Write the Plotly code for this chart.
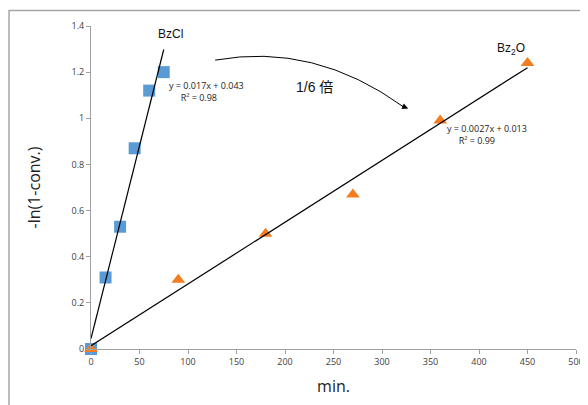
import numpy as np
import plotly.graph_objects as go

# Data
bzcl_x = [0, 15, 30, 45, 60, 75]
bzcl_y = [0, 0.31, 0.53, 0.87, 1.12, 1.20]
bz2o_x = [0, 90, 180, 270, 360, 450]
bz2o_y = [0, 0.30, 0.50, 0.67, 0.99, 1.24]
x_ticks = [0, 50, 100, 150, 200, 250, 300, 350, 400, 450, 500]
y_ticks = [0, 0.2, 0.4, 0.6, 0.8, 1.0, 1.2, 1.4]
y_tick_labels = ["0", "0.2", "0.4", "0.6", "0.8", "1", "1.2", "1.4"]

# Linear trendlines from the data
m1, b1 = np.polyfit(bzcl_x, bzcl_y, 1)
m2, b2 = np.polyfit(bz2o_x, bz2o_y, 1)
t1x = np.array([0, max(bzcl_x)])
t2x = np.array([0, max(bz2o_x)])

fig = go.Figure()
fig.add_trace(go.Scatter(x=bzcl_x, y=bzcl_y, mode="markers", cliponaxis=False,
                         marker=dict(symbol="square", size=12, color="#5b9bd5",
                                     line=dict(width=0)), showlegend=False))
fig.add_trace(go.Scatter(x=bz2o_x, y=bz2o_y, mode="markers", cliponaxis=False,
                         marker=dict(symbol="triangle-up", size=12, color="#f47d1f",
                                     line=dict(width=0)), showlegend=False))
fig.add_trace(go.Scatter(x=t1x, y=m1 * t1x + b1, mode="lines",
                         line=dict(color="black", width=1.2), showlegend=False, hoverinfo="skip"))
fig.add_trace(go.Scatter(x=t2x, y=m2 * t2x + b2, mode="lines",
                         line=dict(color="black", width=1.2), showlegend=False, hoverinfo="skip"))

tick_font = dict(family="Open Sans, Noto Sans, sans-serif", size=9, color="#404040")
fig.update_xaxes(range=[0, 500], tickvals=x_ticks, ticks="outside", ticklen=4,
                 tickcolor="#a0a0a0", showline=True, linecolor="#a0a0a0", linewidth=1,
                 showgrid=False, zeroline=False, tickfont=tick_font, automargin=False,
                 title=dict(text="min.", font=dict(family="Open Sans, Noto Sans, sans-serif",
                                                   size=16, color="#222"), standoff=14))
fig.update_yaxes(range=[0, 1.4], tickvals=y_ticks, ticktext=y_tick_labels, ticks="outside",
                 ticklen=4, tickcolor="#a0a0a0", showline=True, linecolor="#a0a0a0",
                 linewidth=1, showgrid=False, zeroline=False, tickfont=tick_font, automargin=False,
                 title=dict(text="-ln(1-conv.)", font=dict(family="Open Sans, Noto Sans, sans-serif",
                                                           size=16, color="#222"), standoff=26))

lab_font = dict(family="Liberation Sans, Arial, sans-serif", size=12, color="#111")
eq_font = dict(family="Open Sans, Noto Sans, sans-serif", size=9, color="#222")
annots = [
    dict(x=82, y=1.365, text="BzCl", font=lab_font),
    dict(x=433, y=1.3, text="Bz<sub>2</sub>O", font=lab_font),
    dict(x=119, y=1.115, text="y = 0.017x + 0.043<br>     R² = 0.98", font=eq_font, align="left"),
    dict(x=408, y=0.93, text="y = 0.0027x + 0.013<br>     R² = 0.99", font=eq_font, align="left"),
    dict(x=230, y=1.135, text="1/6 倍", font=dict(family="Liberation Sans, Noto Sans CJK JP, sans-serif", size=14, color="#111")),
]
for a in annots:
    a.update(xref="x", yref="y", showarrow=False)
    fig.add_annotation(**a)

# curved arrow: path + arrowhead
fig.add_shape(type="path", xref="x", yref="y",
              path="M 128 1.252 Q 230 1.33 322 1.05",
              line=dict(color="black", width=1))
fig.add_annotation(x=327, y=1.042, ax=318, ay=1.058, xref="x", yref="y", axref="x", ayref="y",
                   text=" ", showarrow=True, arrowhead=2, arrowsize=1.2, arrowwidth=1, arrowcolor="black")

# outer frame (cropped chart border)
fig.add_shape(type="rect", xref="paper", yref="paper", x0=-0.169, x1=1.2, y0=-0.3, y1=1.048,
              line=dict(color="#a6a6a6", width=1.5), fillcolor="rgba(0,0,0,0)", layer="above")

# page body has an 8px margin, so the figure is 8px smaller and offset
fig.update_layout(width=580, height=397, margin=dict(l=83, r=12, t=18, b=56, autoexpand=False),
                  plot_bgcolor="white", paper_bgcolor="white", showlegend=False)

fig.write_html("out.html")
